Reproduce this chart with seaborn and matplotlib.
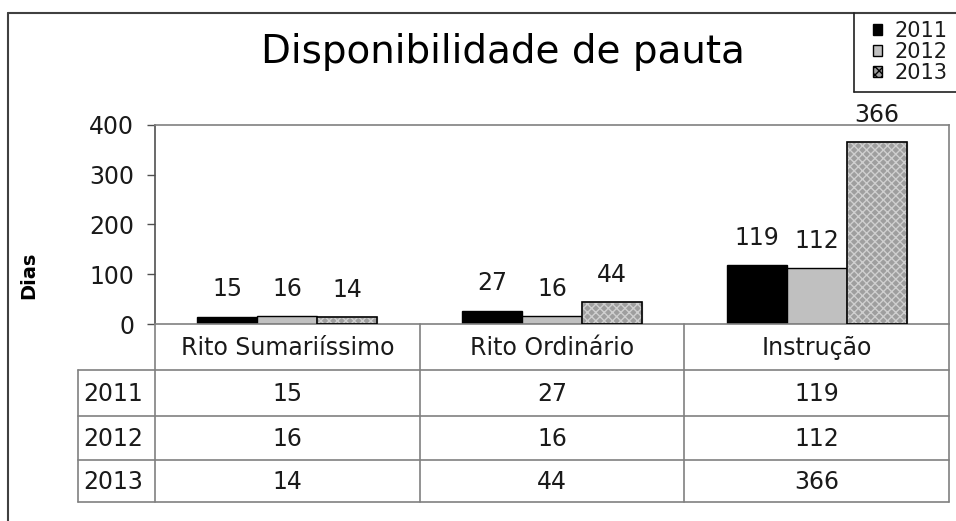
import matplotlib
matplotlib.use('Agg')
import matplotlib.pyplot as plt
import matplotlib.patches as mpatches
from matplotlib.lines import Line2D
import pandas as pd
import seaborn as sns

categorias = ['Rito Sumariíssimo', 'Rito Ordinário', 'Instrução']
anos = ['2011', '2012', '2013']
dias_2011 = [15, 27, 119]
dias_2012 = [16, 16, 112]
dias_2013 = [14, 44, 366]
valores = [dias_2011, dias_2012, dias_2013]

df = pd.DataFrame({
    'categoria': categorias * 3,
    'ano': [a for a in anos for _ in categorias],
    'dias': dias_2011 + dias_2012 + dias_2013,
})

sns.set_style('white')
plt.rcParams['font.family'] = ['DejaVu Sans']

W, H = 956, 521
fig = plt.figure(figsize=(W / 100, H / 100), dpi=100)


def fx(x):
    return x / W


def fy(y):
    return 1 - y / H


txt = '#1a1a1a'
grid_c = '#808080'

# plot area in pixels
L, R, T, B = 155, 949, 125, 324
ax = fig.add_axes([fx(L), fy(B), fx(R) - fx(L), fy(T) - fy(B)])

cores = {'2011': '#000000', '2012': '#c0c0c0', '2013': '#9e9e9e'}
sns.barplot(data=df, x='categoria', y='dias', hue='ano', palette=cores,
            width=0.68, edgecolor='black', linewidth=1, saturation=1,
            legend=False, ax=ax)

# mottled look for 2013
for bar in ax.containers[2]:
    bar.set_hatch('xxxx')
    bar.set_edgecolor('#cfcfcf')
    ax.add_patch(mpatches.Rectangle((bar.get_x(), bar.get_y()), bar.get_width(),
                                    bar.get_height(), fill=False,
                                    edgecolor='black', linewidth=1.2, zorder=3))

for c in ax.containers:
    ax.bar_label(c, padding=11, fontsize=17, color=txt)

ax.set_ylim(0, 400)
ax.set_yticks([0, 100, 200, 300, 400])
ax.set_xlabel('')
ax.set_xticks([])
ax.set_ylabel('')
ax.tick_params(axis='y', left=True, length=6, width=1, color='#505050',
               labelsize=17, labelcolor=txt, pad=9)
for s in ['top', 'right', 'bottom']:
    ax.spines[s].set_color(grid_c)
    ax.spines[s].set_linewidth(1.2)
ax.spines['left'].set_color('#505050')
ax.spines['left'].set_linewidth(1.2)

# y label
fig.text(fx(29), fy(275), 'Dias', rotation=90, ha='center', va='center',
         fontsize=14, fontweight='bold', color='black')

# title
fig.text(fx(503), fy(63), 'Disponibilidade de pauta', ha='center',
         va='baseline', fontsize=28, color='black')

# data table under the plot
col_x = [L + i * (R - L) / 3 for i in range(4)]
row_y = [B, 370, 416, 460, 502]
lab_x = 78


def line(x0, y0, x1, y1, color=grid_c, lw=1.2):
    fig.add_artist(Line2D([fx(x0), fx(x1)], [fy(y0), fy(y1)], color=color,
                          linewidth=lw, transform=fig.transFigure))


for x in col_x:
    line(x, B, x, row_y[-1])
line(lab_x, row_y[1], lab_x, row_y[-1])
for y in row_y[1:]:
    line(lab_x, y, R, y)

for i, cat in enumerate(categorias):
    xc = (col_x[i] + col_x[i + 1]) / 2
    fig.text(fx(xc), fy((row_y[0] + row_y[1]) / 2 + 1), cat, ha='center',
             va='center', fontsize=17, color=txt)

for j, ano in enumerate(anos):
    yc = (row_y[j + 1] + row_y[j + 2]) / 2 + 1
    fig.text(fx(lab_x + 5), fy(yc), ano, ha='left', va='center',
             fontsize=17, color=txt)
    for i in range(3):
        xc = (col_x[i] + col_x[i + 1]) / 2
        fig.text(fx(xc), fy(yc), str(valores[j][i]), ha='center',
                 va='center', fontsize=17, color=txt)

# chart frame
line(8, 13, W, 13, color='#404040', lw=1.5)
line(8, 13, 8, H, color='#404040', lw=1.5)

# legend box
line(854, 13, 854, 92, color='#202020', lw=1.2)
line(854, 92, W, 92, color='#202020', lw=1.2)

handles = [
    mpatches.Patch(facecolor=cores['2011'], edgecolor='black', label='2011'),
    mpatches.Patch(facecolor=cores['2012'], edgecolor='black', label='2012'),
    mpatches.Patch(facecolor=cores['2013'], edgecolor='black', hatch='xxxx',
                   label='2013'),
]
leg = ax.legend(handles=handles, loc='upper left',
                bbox_to_anchor=(fx(873), fy(21)), bbox_transform=fig.transFigure,
                frameon=False, fontsize=15, handlelength=0.45, handleheight=0.45,
                handletextpad=0.6, labelspacing=0.05, borderpad=0,
                borderaxespad=0)
for t in leg.get_texts():
    t.set_color(txt)

fig.savefig('out.png', dpi=100)
